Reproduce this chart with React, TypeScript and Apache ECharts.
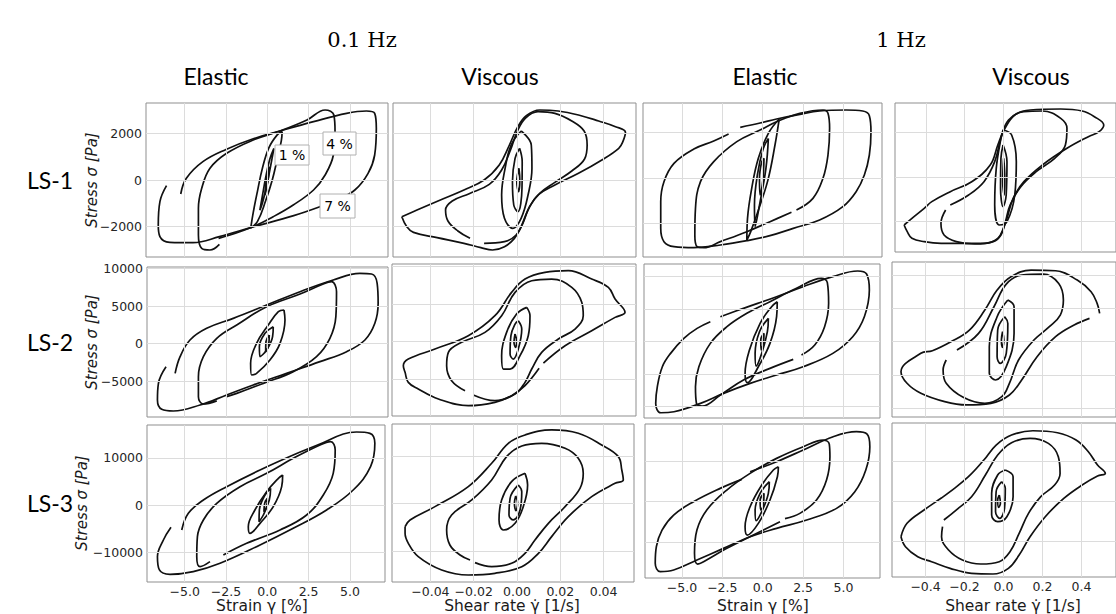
import React, { useEffect, useRef } from "react";
import * as echarts from "echarts";

type Pt = [number, number];

// ---------------- tick values ----------------
const strainTicks = [-5, -2.5, 0, 2.5, 5];
const rate01Ticks = [-0.04, -0.02, 0, 0.02, 0.04];
const rate1Ticks = [-0.4, -0.2, 0, 0.2, 0.4];
const ls1StressTicks = [-2000, 0, 2000];
const ls2StressTicks = [-5000, 0, 5000, 10000];
const ls2StressTicks1Hz = [-10000, -5000, 0, 5000, 10000];
const ls3StressTicks = [-10000, 0, 10000];

// ---------------- texts ----------------
const freqLabels = ["0.1 Hz", "1 Hz"];
const typeLabels = ["Elastic", "Viscous", "Elastic", "Viscous"];
const rowLabels = ["LS-1", "LS-2", "LS-3"];
const ampLabels = ["1 %", "4 %", "7 %"];
const yTitle = "Stress σ [Pa]";
const xTitles = ["Strain γ [%]", "Shear rate γ\u0307 [1/s]", "Strain γ [%]", "Shear rate γ\u0307 [1/s]"];

// ---------------- LS-1, elastic, 0.1 Hz (strain %, stress Pa) ----------------
const ls1El01_7: Pt[] = [[-5.24,-605],[-4.9,72],[-3.9,792],[-2.5,1320],[-0.85,1780],[0.77,2117],[2.8,2520],[4.8,2880],[6.0,2980],[6.5,2880],[6.6,2232],[6.5,1080],[6.1,288],[5.3,-432],[4.2,-864],[3.2,-1152],[1.6,-1540],[-0.95,-2045],[-2.9,-2448],[-4.5,-2707],[-5.9,-2693],[-6.5,-2448],[-6.6,-1944],[-6.5,-936],[-6.1,-245]];
const ls1El01_4: Pt[] = [[-2.9,-2780],[-3.47,-3024],[-3.97,-2952],[-4.17,-2376],[-4.17,-1224],[-3.97,-360],[-3.47,504],[-2.46,1152],[-0.85,1728],[0.77,2117],[2.4,2592],[3.5,3024],[4.03,2808],[4.1,2088],[4.0,1080],[3.5,216],[2.8,-432],[1.57,-1080],[0.36,-1584],[-0.95,-2045],[-2.26,-2376],[-2.95,-2520]];
const ls1El01_1: Pt[] = [[0.9,2100],[0.85,1700],[0.6,900],[0.3,0],[-0.1,-900],[-0.6,-1800],[-1.0,-2060],[-0.85,-1400],[-0.6,-500],[-0.3,500],[0.1,1400],[0.6,1950],[0.9,2100]];
const ls1El01_05: Pt[] = [[0.4,1370],[0.2,600],[-0.05,-300],[-0.3,-1000],[-0.45,-1300],[-0.3,-700],[-0.1,100],[0.15,900],[0.4,1370]];
const ls1El01_01: Pt[] = [[0.12,576],[0.05,0],[-0.08,-450],[-0.14,-648],[-0.08,-100],[0.05,400],[0.12,576]];

// ---------------- LS-1, viscous, 0.1 Hz (rate 1/s, stress Pa) ----------------
const ls1Vi01_7: Pt[] = [[-0.0532,-1584],[-0.0462,-1296],[-0.0354,-864],[-0.0245,-432],[-0.0152,0],[-0.0082,648],[-0.0035,1512],[0.0004,2304],[0.0043,2779],[0.0105,3024],[0.019,2981],[0.0284,2808],[0.0377,2549],[0.0455,2304],[0.0501,2059],[0.0489,1656],[0.047,1368],[0.0392,864],[0.0284,288],[0.0175,-216],[0.0097,-648],[0.0051,-1296],[0.0019,-2016],[-0.0012,-2520],[-0.0058,-2880],[-0.0113,-3024],[-0.0167,-2923],[-0.0245,-2736],[-0.0369,-2491],[-0.0478,-2261],[-0.0509,-2016],[-0.0532,-1584]];
const ls1Vi01_4: Pt[] = [[-0.0152,-2736],[-0.0058,-2664],[-0.0004,-2376],[0.0027,-1872],[0.0058,-1152],[0.0105,-576],[0.0175,-101],[0.0253,389],[0.0312,907],[0.0324,1512],[0.031,2117],[0.0253,2549],[0.0175,2880],[0.0097,2952],[0.0038,2664],[0.0001,2088],[-0.003,1296],[-0.0071,432],[-0.0128,-187],[-0.0221,-590],[-0.0299,-907],[-0.033,-1296],[-0.0319,-1771],[-0.0273,-2203],[-0.0217,-2520]];
const ls1Vi01_1: Pt[] = [[0.0019,2117],[0.0066,1512],[0.0069,504],[0.0051,-648],[0.0019,-1656],[-0.0019,-2088],[-0.0058,-1656],[-0.0071,-648],[-0.0055,504],[-0.0027,1512],[0.0019,2117]];
const ls1Vi01_05: Pt[] = [[0.0012,1368],[0.0024,792],[0.0023,-360],[0.0004,-1368],[-0.0015,-1080],[-0.0021,-72],[-0.0009,936],[0.0012,1368]];
const ls1Vi01_01: Pt[] = [[0.0009,504],[0.0013,0],[0.0007,-504],[-0.0001,-72],[0.0009,504]];

// ---------------- LS-1, elastic, 1 Hz ----------------
const ls1El1_7: Pt[] = [[-1.39,2227],[-0.16,2417],[0.86,2593],[2.3,2798],[3.52,2945],[5.16,2989],[6.19,2945],[6.6,2740],[6.7,2036],[6.6,1011],[6.29,132],[5.78,-601],[4.96,-1260],[3.52,-1846],[1.89,-2212],[0.45,-2534],[-0.98,-2754],[-2.62,-2945],[-4.26,-3062],[-5.49,-3018],[-6.11,-2798],[-6.31,-2212],[-6.31,-1040],[-6.11,-161],[-5.49,645],[-4.26,1275],[-3.03,1626],[-2.11,1934]];
const ls1El1_4: Pt[] = [[1.78,-1509],[0.45,-1919],[-0.98,-2359],[-2.62,-2798],[-3.65,-3062],[-4.06,-3018],[-4.2,-2505],[-4.16,-1333],[-3.85,-161],[-3.03,718],[-1.6,1597],[-0.16,2110],[0.96,2505],[2.3,2842],[3.73,2989],[4.04,2842],[4.14,2183],[4.04,1011],[3.73,-15],[3.11,-894],[2.09,-1406]];
const ls1El1_1: Pt[] = [[1.02,2593],[0.76,1450],[0.35,-15],[-0.16,-1187],[-0.74,-2359],[-0.98,-2725],[-0.94,-1773],[-0.68,-454],[-0.27,864],[0.35,1963],[1.02,2593]];
const ls1El1_05: Pt[] = [[0.35,1743],[0.2,425],[-0.16,-1040],[-0.47,-2139],[-0.51,-1187],[-0.33,132],[0.04,1304],[0.35,1743]];
const ls1El1_01: Pt[] = [[0.08,864],[0,-161],[-0.16,-747],[-0.2,-15],[-0.06,718],[0.08,864]];

// ---------------- LS-1, viscous, 1 Hz ----------------
const ls1Vi1_7: Pt[] = [[-0.511,-2157],[-0.471,-1857],[-0.408,-1408],[-0.369,-1108],[-0.274,-659],[-0.164,-210],[-0.069,539],[-0.03,1438],[0.002,2112],[0.057,2786],[0.136,3011],[0.293,3056],[0.403,2966],[0.466,2711],[0.514,2337],[0.49,2037],[0.435,1813],[0.325,1288],[0.199,539],[0.104,-210],[0.049,-959],[0.017,-1858],[0.002,-2232],[-0.03,-2756],[-0.101,-2981],[-0.211,-2981],[-0.321,-2980],[-0.408,-2907],[-0.471,-2755],[-0.495,-2458],[-0.511,-2157]];
const ls1Vi1_4: Pt[] = [[-0.274,-1258],[-0.18,-809],[-0.101,-210],[-0.046,689],[-0.014,1738],[0.025,2562],[0.104,2936],[0.199,2966],[0.293,2636],[0.325,2187],[0.317,1438],[0.262,839],[0.167,240],[0.088,-434],[0.033,-1258],[0.009,-2007],[-0.014,-2607],[-0.054,-2906],[-0.148,-3011],[-0.243,-2906],[-0.306,-2607],[-0.322,-2082],[-0.298,-1483]];
const ls1Vi1_1: Pt[] = [[-0.003,2112],[0.041,1887],[0.065,689],[0.057,-809],[0.017,-2007],[-0.022,-2157],[-0.046,-1258],[-0.038,389],[-0.014,1738],[-0.003,2112]];
const ls1Vi1_05: Pt[] = [[-0.003,1438],[0.017,689],[0.013,-809],[-0.003,-1333],[-0.016,-509],[-0.014,839],[-0.003,1438]];
const ls1Vi1_01: Pt[] = [[0,839],[0.006,-60],[0.003,-809],[-0.005,-210],[0,839]];

// ---------------- LS-2, elastic, 0.1 Hz ----------------
const ls2El01_7: Pt[] = [[-5.58,-3977],[-5.28,-1755],[-4.68,467],[-3.67,2022],[-2.06,3355],[-0.04,5133],[1.98,6910],[3.99,8466],[5.6,9355],[6.31,9266],[6.65,8021],[6.71,5355],[6.51,2689],[5.91,467],[4.8,-1089],[3.19,-2422],[1.17,-3977],[-0.85,-5533],[-2.46,-6866],[-4.07,-8199],[-5.69,-8999],[-6.39,-8777],[-6.65,-7533],[-6.59,-5311],[-6.13,-3089]];
const ls2El01_4: Pt[] = [[-3.06,-7650],[-3.87,-8066],[-4.17,-7088],[-4.17,-4421],[-3.87,-1755],[-3.06,689],[-1.85,2466],[-0.04,4900],[1.98,6600],[3.39,7933],[3.89,8244],[4.19,6910],[4.15,3578],[3.79,689],[2.98,-1755],[1.57,-3755],[-0.24,-5311],[-1.85,-6644],[-2.46,-7088]];
const ls2El01_1: Pt[] = [[1.01,4466],[1.07,3133],[0.77,22],[0.16,-2200],[-0.65,-3977],[-0.95,-4199],[-1.01,-2644],[-0.65,22],[0.06,2466],[0.67,4244],[1.01,4466]];
const ls2El01_05: Pt[] = [[0.36,2244],[0.32,911],[-0.04,-867],[-0.44,-1755],[-0.48,-422],[-0.14,1355],[0.36,2244]];
const ls2El01_01: Pt[] = [[0.12,1133],[0.06,-422],[-0.1,-1089],[-0.08,245],[0.12,1133]];

// ---------------- LS-2, viscous, 0.1 Hz ----------------
const ls2Vi01_7: Pt[] = [[0.0102,-3555],[0.0037,-5866],[-0.0025,-7199],[-0.0102,-8088],[-0.0225,-8532],[-0.0363,-7644],[-0.0456,-6310],[-0.0502,-5422],[-0.0517,-4088],[-0.0525,-3200],[-0.0502,-2311],[-0.0379,-978],[-0.0225,800],[-0.0102,3466],[-0.0025,6577],[0.0037,8355],[0.0129,9244],[0.0237,9466],[0.0345,8355],[0.0422,7244],[0.0453,5688],[0.0499,3911],[0.0453,3244],[0.0345,1467],[0.0222,-533],[0.0122,-2844]];
const ls2Vi01_4: Pt[] = [[-0.0202,-7110],[-0.0102,-7866],[-0.0009,-6977],[0.0037,-5422],[0.0068,-3644],[0.0114,-1422],[0.0191,356],[0.0268,1689],[0.0306,3466],[0.0299,5244],[0.0253,7244],[0.016,8355],[0.0068,8132],[-0.0009,6577],[-0.0071,3466],[-0.0148,1244],[-0.0256,-89],[-0.0317,-1422],[-0.0325,-3200],[-0.0302,-5200],[-0.024,-6533]];
const ls2Vi01_1: Pt[] = [[0.0045,4577],[0.006,3466],[0.0052,800],[0.0014,-1867],[-0.0032,-3644],[-0.0063,-3644],[-0.0071,-1867],[-0.0048,1244],[-0.0002,3688],[0.0045,4577]];
const ls2Vi01_05: Pt[] = [[0.0006,2800],[0.0022,1689],[0.0006,-978],[-0.0017,-2311],[-0.0032,-1644],[-0.0028,800],[-0.0009,2355],[0.0006,2800]];
const ls2Vi01_01: Pt[] = [[-0.0009,1022],[-0.0002,133],[-0.0006,-755],[-0.0014,-89],[-0.0009,1022]];

// ---------------- LS-2, elastic, 1 Hz ----------------
const ls2El1_7: Pt[] = [[-2.62,3848],[-1.19,5130],[0.86,6926],[2.5,8465],[4.34,10004],[5.88,10876],[6.43,10414],[6.6,7952],[6.29,3848],[5.57,770],[4.34,-1796],[2.5,-3848],[0.86,-5130],[-0.78,-6413],[-2.42,-7952],[-3.85,-9491],[-5.49,-10773],[-6.31,-10927],[-6.62,-9491],[-6.52,-6926],[-6.21,-3848],[-5.7,-1796],[-4.88,513],[-4.06,2052],[-3.24,3078]];
const ls2El1_4: Pt[] = [[1.89,-2719],[0.45,-4104],[-1.19,-5900],[-2.62,-8208],[-3.75,-9901],[-4.1,-9491],[-4.16,-6926],[-3.95,-3848],[-3.24,-257],[-2.21,2309],[-0.98,4361],[0.45,6156],[2.09,8208],[3.63,9747],[4.0,9080],[4.08,5900],[3.83,2309],[3.22,-513],[2.4,-2052]];
const ls2El1_1: Pt[] = [[0.9,6156],[0.86,3848],[0.45,-257],[-0.27,-3848],[-0.94,-6310],[-1.09,-4874],[-0.82,-1283],[-0.16,2822],[0.55,5387],[0.9,6156]];
const ls2El1_05: Pt[] = [[0.35,3591],[0.29,1539],[-0.06,-1796],[-0.41,-3745],[-0.47,-1796],[-0.2,1539],[0.35,3591]];
const ls2El1_01: Pt[] = [[0.08,1283],[0.04,-257],[-0.1,-1283],[-0.12,257],[0.08,1283]];

// ---------------- LS-2, viscous, 1 Hz ----------------
const ls2Vi1_7: Pt[] = [[0.441,3500],[0.362,2500],[0.267,750],[0.172,-2250],[0.093,-5750],[0.03,-8000],[-0.065,-9250],[-0.191,-9500],[-0.302,-9000],[-0.424,-7748],[-0.495,-6246],[-0.526,-4505],[-0.424,-1742],[-0.365,-1350],[-0.27,0],[-0.175,1750],[-0.096,4750],[-0.033,7750],[0.038,9750],[0.141,10750],[0.267,10650],[0.378,9250],[0.449,7500],[0.48,5750],[0.493,4250]];
const ls2Vi1_4: Pt[] = [[-0.239,-1250],[-0.128,1250],[-0.049,5250],[0.014,8650],[0.093,10000],[0.204,10150],[0.283,8750],[0.307,6250],[0.291,4000],[0.235,2250],[0.156,250],[0.077,-2750],[0.03,-6250],[-0.009,-8250],[-0.096,-9250],[-0.207,-8350],[-0.294,-6250],[-0.31,-4250],[-0.294,-2750]];
const ls2Vi1_1: Pt[] = [[0.022,6250],[0.054,5250],[0.054,1250],[0.014,-3750],[-0.041,-5750],[-0.073,-4750],[-0.073,-750],[-0.033,3750],[0.022,6250]];
const ls2Vi1_05: Pt[] = [[0.006,3750],[0.022,2750],[0.014,-1750],[-0.017,-3250],[-0.033,-2250],[-0.03,1750],[0.006,3750]];
const ls2Vi1_01: Pt[] = [[-0.005,1500],[0.002,250],[-0.005,-850],[-0.011,250],[-0.005,1500]];

// ---------------- LS-3, elastic, 0.1 Hz ----------------
const ls3El01_7: Pt[] = [[-5.18,-5295],[-4.78,-1765],[-3.87,1059],[-2.46,3883],[-0.44,7413],[1.57,10590],[3.19,12920],[4.6,15038],[5.4,15461],[6.21,15179],[6.51,13061],[6.25,8119],[5.2,3177],[3.59,-1059],[1.57,-4942],[-0.44,-8472],[-2.86,-12355],[-4.48,-14120],[-5.89,-14685],[-6.53,-13767],[-6.65,-10943],[-6.29,-7413],[-5.83,-4730]];
const ls3El01_4: Pt[] = [[-3.47,-12002],[-4.07,-13061],[-4.27,-10943],[-4.23,-6707],[-3.87,-3177],[-3.06,353],[-1.65,3883],[-0.04,6707],[1.57,9884],[3.19,12708],[3.83,13414],[4.11,11649],[3.99,6707],[3.39,2118],[2.38,-2118],[0.77,-5295],[-1.25,-8119],[-2.66,-10590]];
const ls3El01_1: Pt[] = [[0.93,6354],[0.87,3883],[0.36,-353],[-0.44,-3883],[-1.05,-6001],[-1.15,-4589],[-0.75,-1059],[-0.04,2824],[0.67,5648],[0.93,6354]];
const ls3El01_05: Pt[] = [[0.2,3530],[0.12,1059],[-0.24,-2118],[-0.5,-3530],[-0.48,-1059],[-0.14,2118],[0.2,3530]];
const ls3El01_01: Pt[] = [[0,1412],[-0.04,-353],[-0.2,-1412],[-0.16,353],[0,1412]];

// ---------------- LS-3, viscous, 0.1 Hz ----------------
const ls3Vi01_7: Pt[] = [[-0.0517,-4914],[-0.0494,-3510],[-0.0379,-702],[-0.0225,3510],[-0.0117,8424],[-0.004,12636],[0.0037,14391],[0.016,15444],[0.0283,14742],[0.0391,12285],[0.0468,9828],[0.0484,7020],[0.0491,4914],[0.0453,4212],[0.0345,1404],[0.0237,-2808],[0.016,-7020],[0.0099,-10530],[0.0022,-13338],[-0.0102,-14742],[-0.0225,-15093],[-0.0348,-14040],[-0.0456,-11232],[-0.0502,-8424],[-0.0517,-6318],[-0.0517,-4914]];
const ls3Vi01_4: Pt[] = [[-0.0194,-12496],[-0.0117,-13338],[-0.0025,-12636],[0.0037,-10530],[0.0083,-7722],[0.0145,-4212],[0.0222,-702],[0.0291,3159],[0.0306,6318],[0.0283,9477],[0.0222,11583],[0.0114,12636],[0.0022,12074],[-0.0048,9828],[-0.0117,4914],[-0.0209,702],[-0.0302,-2457],[-0.0325,-5616],[-0.031,-8775],[-0.0263,-10881],[-0.0217,-11934]];
const ls3Vi01_1: Pt[] = [[0.0037,6318],[0.0049,3861],[0.0029,-702],[-0.0009,-4212],[-0.0063,-5616],[-0.0083,-3510],[-0.0071,702],[-0.0025,4563],[0.0037,6318]];
const ls3Vi01_05: Pt[] = [[0.0006,3861],[0.0022,2457],[0.0014,-1404],[-0.0017,-3510],[-0.0037,-2457],[-0.0032,1053],[0.0006,3861]];
const ls3Vi01_01: Pt[] = [[-0.0006,1544],[0.0003,0],[-0.0005,-1544],[-0.0012,0],[-0.0006,1544]];

// ---------------- LS-3, elastic, 1 Hz ----------------
const ls3El1_7: Pt[] = [[-0.78,7353],[0.86,9804],[2.51,12664],[4.36,15932],[5.8,17157],[6.46,16585],[6.63,13481],[6.38,7762],[5.7,2451],[4.57,-1634],[2.72,-4494],[0.86,-6536],[-0.78,-8579],[-2.43,-11438],[-4.07,-14298],[-5.51,-16749],[-6.34,-17157],[-6.65,-15115],[-6.58,-11030],[-6.23,-6945],[-5.51,-3268],[-4.28,0],[-2.63,3268],[-1.3,5474]];
const ls3El1_4: Pt[] = [[1.07,-4902],[-0.58,-8170],[-2.22,-11438],[-3.66,-14706],[-4.03,-15278],[-4.22,-12664],[-4.07,-6945],[-3.46,-2043],[-2.22,2860],[-0.78,6945],[0.86,10621],[2.51,13481],[3.74,15115],[4.12,14134],[4.16,11030],[3.95,5311],[3.33,409],[2.3,-2860],[1.38,-4167]];
const ls3El1_1: Pt[] = [[0.97,8579],[0.91,6128],[0.45,409],[-0.27,-5311],[-0.95,-8170],[-1.09,-6128],[-0.78,-1226],[-0.06,4085],[0.66,7762],[0.97,8579]];
const ls3El1_05: Pt[] = [[0.41,4902],[0.35,2043],[-0.06,-2451],[-0.41,-4657],[-0.47,-2043],[-0.16,2043],[0.41,4902]];
const ls3El1_01: Pt[] = [[0.08,2043],[0.04,-817],[-0.12,-2043],[-0.16,409],[0.08,2043]];

// ---------------- LS-3, viscous, 1 Hz ----------------
const ls3Vi1_7: Pt[] = [[-0.526,-8750],[-0.495,-5400],[-0.408,-2075],[-0.321,850],[-0.274,2499],[-0.18,6248],[-0.101,10413],[-0.038,14161],[0.041,16660],[0.151,17743],[0.277,17243],[0.372,15411],[0.435,12495],[0.482,9163],[0.522,7081],[0.482,6414],[0.403,4165],[0.309,833],[0.214,-3749],[0.136,-8747],[0.08,-13328],[0.025,-16660],[-0.054,-18076],[-0.164,-17910],[-0.274,-16660],[-0.369,-15000],[-0.44,-13750],[-0.503,-11250],[-0.526,-8750]];
const ls3Vi1_4: Pt[] = [[-0.306,-4582],[-0.243,-2083],[-0.164,1250],[-0.093,6664],[-0.03,11662],[0.041,14744],[0.136,15827],[0.23,14577],[0.281,11246],[0.29,7081],[0.262,4165],[0.191,1250],[0.128,-2916],[0.08,-7914],[0.033,-12495],[-0.022,-14994],[-0.117,-15577],[-0.211,-14577],[-0.282,-12079],[-0.318,-8747],[-0.313,-6248]];
const ls3Vi1_1: Pt[] = [[0.009,7914],[0.049,6248],[0.049,1250],[0.017,-3749],[-0.03,-4998],[-0.061,-3332],[-0.061,2083],[-0.03,6664],[0.009,7914]];
const ls3Vi1_05: Pt[] = [[-0.009,4998],[0.009,3332],[0.005,-1666],[-0.019,-4165],[-0.041,-2499],[-0.038,2499],[-0.009,4998]];
const ls3Vi1_01: Pt[] = [[-0.022,1666],[-0.016,-417],[-0.025,-1416],[-0.03,417],[-0.022,1666]];

// ---------------- layout (positions, not data) ----------------
interface PanelSpec {
  box: [number, number, number, number]; // left, top, right, bottom (px)
  x0: number; kx: number; // px of x=0, px per unit
  y0: number; ky: number; // px of y=0, px per unit
  xTicks: number[]; yTicks: number[];
  loops: Pt[][];
  xLabels: boolean; yLabels: boolean; xDec: number;
}

const C1 = { x0: 267.3, kx: 16.52 };
const C2 = { x0: 517, kx: 2165 };
const C3 = { x0: 762.7, kx: 16.16 };
const C4 = { x0: 1013, kx: 211.5 };

const panels: PanelSpec[] = [
  { box: [146, 103, 388, 257], ...C1, y0: 180, ky: 0.02315, xTicks: strainTicks, yTicks: ls1StressTicks, loops: [ls1El01_7, ls1El01_4, ls1El01_1, ls1El01_05, ls1El01_01], xLabels: false, yLabels: true, xDec: 1 },
  { box: [393, 103, 636, 257], ...C2, y0: 180, ky: 0.02315, xTicks: rate01Ticks, yTicks: ls1StressTicks, loops: [ls1Vi01_7, ls1Vi01_4, ls1Vi01_1, ls1Vi01_05, ls1Vi01_01], xLabels: false, yLabels: false, xDec: 2 },
  { box: [643, 103, 882, 257], ...C3, y0: 178, ky: 0.02275, xTicks: strainTicks, yTicks: ls1StressTicks, loops: [ls1El1_7, ls1El1_4, ls1El1_1, ls1El1_05, ls1El1_01], xLabels: false, yLabels: false, xDec: 1 },
  { box: [895, 103, 1135, 252], ...C4, y0: 177, ky: 0.02225, xTicks: rate1Ticks, yTicks: ls1StressTicks, loops: [ls1Vi1_7, ls1Vi1_4, ls1Vi1_1, ls1Vi1_05, ls1Vi1_01], xLabels: false, yLabels: false, xDec: 1 },

  { box: [147, 267, 388, 417], ...C1, y0: 343.5, ky: 0.0075, xTicks: strainTicks, yTicks: ls2StressTicks, loops: [ls2El01_7, ls2El01_4, ls2El01_1, ls2El01_05, ls2El01_01], xLabels: false, yLabels: true, xDec: 1 },
  { box: [392, 264, 636, 416], ...C2, y0: 341.7, ky: 0.0075, xTicks: rate01Ticks, yTicks: ls2StressTicks, loops: [ls2Vi01_7, ls2Vi01_4, ls2Vi01_1, ls2Vi01_05, ls2Vi01_01], xLabels: false, yLabels: false, xDec: 2 },
  { box: [644, 264, 880, 418], ...C3, y0: 341.7, ky: 0.0065, xTicks: strainTicks, yTicks: ls2StressTicks1Hz, loops: [ls2El1_7, ls2El1_4, ls2El1_1, ls2El1_05, ls2El1_01], xLabels: false, yLabels: false, xDec: 1 },
  { box: [892, 262, 1135, 417], ...C4, y0: 341.7, ky: 0.00666, xTicks: rate1Ticks, yTicks: ls2StressTicks1Hz, loops: [ls2Vi1_7, ls2Vi1_4, ls2Vi1_1, ls2Vi1_05, ls2Vi1_01], xLabels: false, yLabels: false, xDec: 1 },

  { box: [147, 425, 385, 582], ...C1, y0: 505, ky: 0.00472, xTicks: strainTicks, yTicks: ls3StressTicks, loops: [ls3El01_7, ls3El01_4, ls3El01_1, ls3El01_05, ls3El01_01], xLabels: true, yLabels: true, xDec: 1 },
  { box: [392, 424, 634, 582], ...C2, y0: 503.3, ky: 0.00475, xTicks: rate01Ticks, yTicks: ls3StressTicks, loops: [ls3Vi01_7, ls3Vi01_4, ls3Vi01_1, ls3Vi01_05, ls3Vi01_01], xLabels: true, yLabels: false, xDec: 2 },
  { box: [645, 424, 880, 578], ...C3, y0: 501.7, ky: 0.00408, xTicks: strainTicks, yTicks: ls3StressTicks, loops: [ls3El1_7, ls3El1_4, ls3El1_1, ls3El1_05, ls3El1_01], xLabels: true, yLabels: false, xDec: 1 },
  { box: [892, 423, 1135, 577], ...C4, y0: 501.7, ky: 0.004, xTicks: rate1Ticks, yTicks: ls3StressTicks, loops: [ls3Vi1_7, ls3Vi1_4, ls3Vi1_1, ls3Vi1_05, ls3Vi1_01], xLabels: true, yLabels: false, xDec: 1 },
];

const fmt = (v: number, d: number) => {
  const s = Math.abs(v) < 1e-12 ? (0).toFixed(d) : v.toFixed(d);
  return s.replace("-", "\u2212");
};

const TICK_FONT = { fontFamily: "DejaVu Sans", fontSize: 12.5, color: "#262626" };

function buildOption() {
  const grid: any[] = [];
  const xAxis: any[] = [];
  const yAxis: any[] = [];
  const series: any[] = [];

  panels.forEach((p, i) => {
    const [l, t, r, b] = p.box;
    grid.push({ left: l, top: t, width: r - l, height: b - t, show: true, borderColor: "#8f8f8f", borderWidth: 1, backgroundColor: "rgba(0,0,0,0)" });
    xAxis.push({
      type: "value", gridIndex: i,
      min: (l - p.x0) / p.kx, max: (r - p.x0) / p.kx,
      axisLine: { show: false }, axisTick: { show: false }, splitLine: { show: false },
      axisLabel: p.xLabels
        ? { show: true, customValues: p.xTicks, formatter: (v: number) => fmt(v, p.xDec), margin: 3, ...TICK_FONT }
        : { show: false },
    });
    yAxis.push({
      type: "value", gridIndex: i,
      min: (p.y0 - b) / p.ky, max: (p.y0 - t) / p.ky,
      axisLine: { show: false }, axisTick: { show: false }, splitLine: { show: false },
      axisLabel: p.yLabels
        ? { show: true, customValues: p.yTicks, formatter: (v: number) => fmt(v, 0), margin: 4, ...TICK_FONT }
        : { show: false },
    });
    series.push({
      type: "line", xAxisIndex: i, yAxisIndex: i, data: [], silent: true, z: 1,
      markLine: {
        silent: true, symbol: ["none", "none"], label: { show: false },
        lineStyle: { color: "#dcdcdc", width: 1, type: "solid" },
        emphasis: { disabled: true },
        data: [...p.xTicks.map((v) => ({ xAxis: v })), ...p.yTicks.map((v) => ({ yAxis: v }))],
      },
    });
    p.loops.forEach((loop) => {
      series.push({
        type: "line", xAxisIndex: i, yAxisIndex: i, data: loop,
        showSymbol: false, symbol: "none", smooth: 0.4, silent: true, z: 3,
        lineStyle: { color: "#111", width: 1.7 },
      });
    });
  });

  const graphic: any[] = [];
  const txt = (text: string, x: number, y: number, fontSize: number, fontFamily: string, extra: any = {}) => ({
    type: "text", x, y, z: 100, silent: true, ...extra,
    style: { text, fontSize, fontFamily, fill: "#000", align: "center", verticalAlign: "middle", ...(extra.style || {}) },
  });

  graphic.push(txt(freqLabels[0], 362, 40, 21, "DejaVu Serif"));
  graphic.push(txt(freqLabels[1], 901, 40, 21, "DejaVu Serif"));
  const typeX = [216, 500, 765, 1031];
  typeLabels.forEach((s, k) => graphic.push(txt(s, typeX[k], 76, 23, "Lato")));
  const rowY = [180, 342, 503];
  rowLabels.forEach((s, k) => graphic.push(txt(s, 50, rowY[k], 23, "Lato")));
  const yTitleX = [92, 92, 82];
  rowY.forEach((y, k) =>
    graphic.push(txt(yTitle, yTitleX[k], y, 15, "DejaVu Sans", { rotation: Math.PI / 2, style: { fontStyle: "italic", fill: "#1a1a1a" } }))
  );
  const xTitleX = [262, 512, 763, 1013];
  xTitles.forEach((s, k) => graphic.push(txt(s, xTitleX[k], 606, 15.5, "DejaVu Sans", { style: { fill: "#1a1a1a" } })));

  // amplitude annotation boxes (LS-1, elastic, 0.1 Hz)
  const boxes: [number, number, number, number][] = [[275, 145, 34, 20], [323, 132, 33, 23], [320, 194, 35, 24]];
  boxes.forEach((bx, k) => {
    graphic.push({ type: "rect", z: 99, silent: true, shape: { x: bx[0], y: bx[1], width: bx[2], height: bx[3] }, style: { fill: "#fff", stroke: "#b0b0b0", lineWidth: 1 } });
    graphic.push(txt(ampLabels[k], bx[0] + bx[2] / 2, bx[1] + bx[3] / 2, 14, "DejaVu Sans"));
  });

  return { animation: false, backgroundColor: "#ffffff", grid, xAxis, yAxis, series, graphic };
}

export default function App() {
  const ref = useRef<HTMLDivElement>(null);
  useEffect(() => {
    if (!ref.current) return;
    const chart = echarts.init(ref.current, null, { renderer: "svg" });
    chart.setOption(buildOption() as any);
    return () => chart.dispose();
  }, []);
  return <div ref={ref} style={{ position: "fixed", left: 0, top: 0, width: 1116, height: 614, background: "#fff" }} />;
}
